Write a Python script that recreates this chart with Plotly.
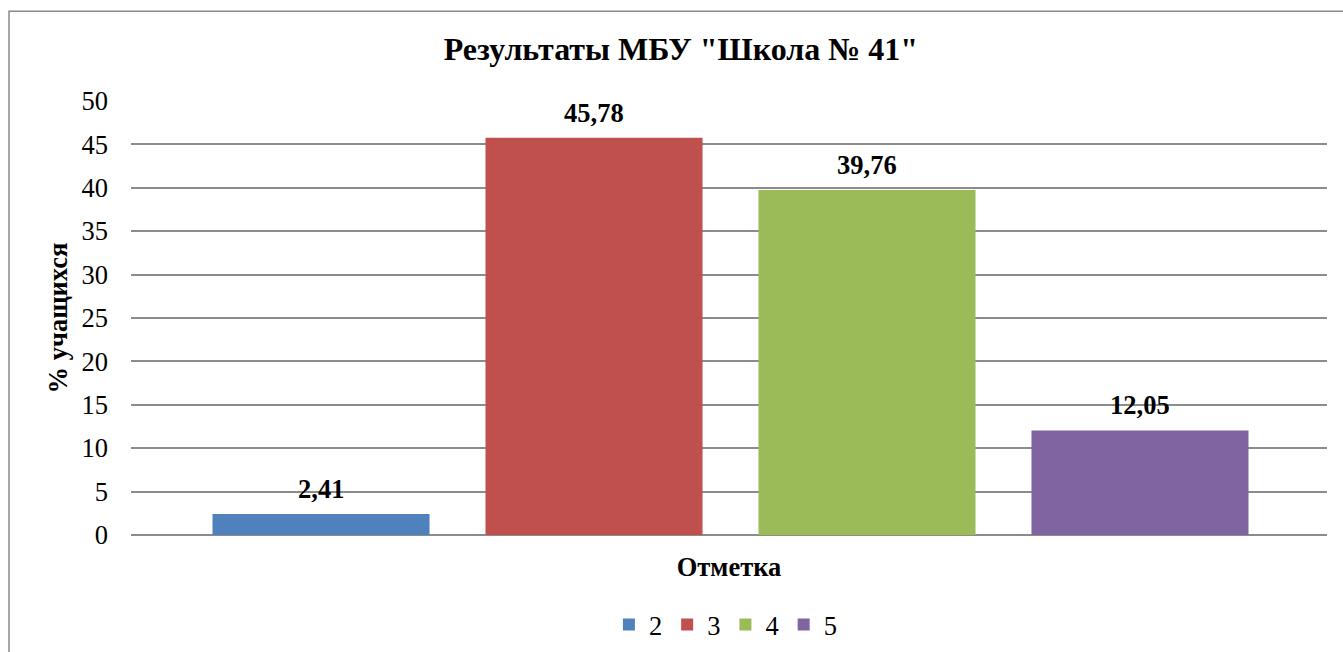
import plotly.graph_objects as go

series_names = ["2", "3", "4", "5"]
values = [2.41, 45.78, 39.76, 12.05]
value_labels = ["2,41", "45,78", "39,76", "12,05"]
colors = ["#4F81BD", "#C0504D", "#9BBB59", "#8064A2"]
y_ticks = [0, 5, 10, 15, 20, 25, 30, 35, 40, 45, 50]

FONT = "Liberation Serif, Tinos, Times New Roman, DejaVu Serif, serif"
FS = 26.5
positions = list(range(len(series_names)))

fig = go.Figure()
for pos, name, val, col in zip(positions, series_names, values, colors):
    fig.add_trace(go.Bar(x=[pos], y=[val], name=name, marker_color=col,
                         marker_line_width=0, width=0.795))

for pos, val, lab in zip(positions, values, value_labels):
    fig.add_annotation(x=pos, y=val, text="<b>%s</b>" % lab, showarrow=False,
                       yshift=25, font=dict(family=FONT, size=FS, color="black"))

fig.add_shape(type="rect", xref="paper", yref="paper", x0=-0.102, x1=1.2,
              y0=-0.4, y1=1.207, line=dict(color="#8a8a8a", width=1.5),
              fillcolor="rgba(0,0,0,0)", layer="below")

fig.update_layout(
    width=1343, height=652,
    margin=dict(l=131, r=16, t=101, b=117, autoexpand=False),
    paper_bgcolor="white", plot_bgcolor="white",
    font=dict(family=FONT, size=FS, color="black"),
    title=dict(text="<b>Результаты МБУ \"Школа № 41\"</b>", x=0.507, xanchor="center",
               y=1 - 49 / 652, yanchor="middle", yref="container",
               font=dict(family=FONT, size=32, color="black")),
    showlegend=True,
    legend=dict(orientation="h", x=0.497, xanchor="center", y=-0.207, yanchor="middle",
                font=dict(family=FONT, size=FS, color="black"), bgcolor="rgba(0,0,0,0)",
                traceorder="normal"),
    xaxis=dict(range=[-0.696, 3.685], showticklabels=False, showgrid=False,
               zeroline=False, showline=False, ticks="", automargin=False,
               title=dict(text="<b>Отметка</b>", standoff=22,
                          font=dict(family=FONT, size=FS, color="black"))),
    yaxis=dict(range=[0, 50], tickvals=y_ticks, showgrid=True, gridcolor="#8c8c8c",
               gridwidth=1.5, zeroline=True, zerolinecolor="#8c8c8c", zerolinewidth=1.5,
               showline=False, ticks="", ticklabelstandoff=22, automargin=False,
               tickfont=dict(family=FONT, size=FS, color="black"),
               title=dict(text="<b>% учащихся</b>", standoff=6,
                          font=dict(family=FONT, size=FS, color="black"))),
)

fig.write_html("out.html", config={"displayModeBar": False},
               post_script="document.body.style.margin='0';")
